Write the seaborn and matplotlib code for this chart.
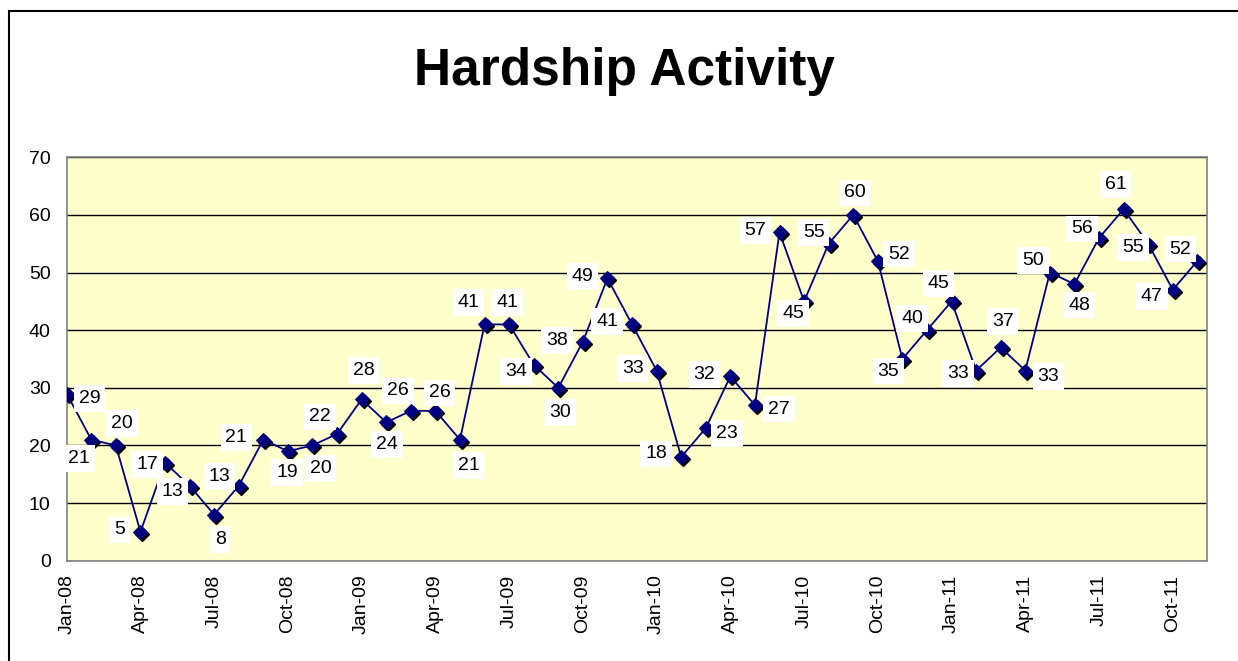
"""
Hardship Activity - monthly line chart with data labels
"""
import numpy as np
import pandas as pd
import matplotlib
matplotlib.use('Agg')
import matplotlib.pyplot as plt
from matplotlib.transforms import offset_copy
import seaborn as sns

sns.set_style('white')
plt.rcParams['font.family'] = ['Liberation Sans', 'DejaVu Sans']
plt.rcParams['text.color'] = 'black'

# data: Jan-08 .. Nov-11
months = ['Jan-08', 'Feb-08', 'Mar-08', 'Apr-08', 'May-08', 'Jun-08', 'Jul-08', 'Aug-08',
          'Sep-08', 'Oct-08', 'Nov-08', 'Dec-08',
          'Jan-09', 'Feb-09', 'Mar-09', 'Apr-09', 'May-09', 'Jun-09', 'Jul-09', 'Aug-09',
          'Sep-09', 'Oct-09', 'Nov-09', 'Dec-09',
          'Jan-10', 'Feb-10', 'Mar-10', 'Apr-10', 'May-10', 'Jun-10', 'Jul-10', 'Aug-10',
          'Sep-10', 'Oct-10', 'Nov-10', 'Dec-10',
          'Jan-11', 'Feb-11', 'Mar-11', 'Apr-11', 'May-11', 'Jun-11', 'Jul-11', 'Aug-11',
          'Sep-11', 'Oct-11', 'Nov-11']
values = [29, 21, 20, 5, 17, 13, 8, 13, 21, 19, 20, 22,
          28, 24, 26, 26, 21, 41, 41, 34, 30, 38, 49, 41,
          33, 18, 23, 32, 27, 57, 45, 55, 60, 52, 35, 40,
          45, 33, 37, 33, 50, 48, 56, 61, 55, 47, 52]
tick_labels = ['Jan-08', 'Apr-08', 'Jul-08', 'Oct-08',
               'Jan-09', 'Apr-09', 'Jul-09', 'Oct-09',
               'Jan-10', 'Apr-10', 'Jul-10', 'Oct-10',
               'Jan-11', 'Apr-11', 'Jul-11', 'Oct-11']

# label placement (pixels right, pixels down) relative to each point
label_offsets = [(23, 5), (-12, 19), (6, -22), (-21, -2), (-18, 2), (-17, 6), (6, 25), (-19, -9),
                 (-27, -2), (-1, 21), (8, 23), (-17, -17),
                 (2, -29), (1, 22), (-13, -20), (4, -18), (9, 26), (-16, -22), (-2, -22), (-18, 7),
                 (2, 25), (-26, -1), (-25, -2), (-25, -3),
                 (-24, -2), (-25, -3), (21, 5), (-26, -2), (24, 4), (-24, -2), (-11, 12), (-15, -11),
                 (2, -22), (21, -7), (-14, 12), (-15, -12),
                 (-13, -18), (-18, 3), (2, -26), (23, 6), (-17, -12), (5, 21), (-17, -9), (-8, -25),
                 (-15, 4), (-21, 7), (-17, -12)]

df = pd.DataFrame({'month': months, 'value': values})
df['pos'] = np.arange(len(df))

W, H = 1238, 661
fig = plt.figure(figsize=(W / 100, H / 100), dpi=100)
ax = fig.add_axes([66.7 / W, 1 - 560.7 / H, (1206.7 - 66.7) / W, (560.7 - 157.3) / H])
ax.set_facecolor('#FFFFCC')

# outer chart border (right/bottom cut off in the original)
fig.patches.append(plt.Rectangle((9 / W, -0.05), 1.1, 1 - 11 / H + 0.05, transform=fig.transFigure,
                                 fill=False, edgecolor='black', linewidth=1.5, zorder=0))

# gridlines
ax.set_ylim(0, 70)
ax.set_yticks(range(0, 71, 10))
ax.yaxis.grid(True, color='black', linewidth=1)
ax.set_axisbelow(True)

# marker shadow
shadow = offset_copy(ax.transData, fig=fig, x=2, y=-2, units='dots')
ax.plot(df['pos'], df['value'], 'D', color='black', markersize=7.5, transform=shadow, zorder=3)

sns.lineplot(data=df, x='pos', y='value', ax=ax, color='#000080', linewidth=1.3,
             marker='D', markersize=7.5, markeredgecolor='#000080', zorder=4)

for x, y, (dx, dy) in zip(df['pos'], df['value'], label_offsets):
    ax.annotate(str(y), (x, y), xytext=(dx, -dy), textcoords='offset pixels',
                ha='center', va='center', fontsize=14, color='black', zorder=6,
                bbox=dict(boxstyle='square,pad=0.25', facecolor='white', edgecolor='none'))

ax.set_xlim(0, 46.38)
ax.set_xticks(range(0, 46, 3))
ax.set_xticklabels(tick_labels, rotation=90)
ax.set_xlabel('')
ax.set_ylabel('')
ax.tick_params(axis='both', which='major', direction='out', width=1,
               color='#606060', labelsize=14, labelcolor='black')
ax.tick_params(axis='x', length=4, pad=6)
ax.tick_params(axis='y', length=5, pad=6.5)

for side in ['left', 'bottom', 'right', 'top']:
    ax.spines[side].set_visible(True)
    ax.spines[side].set_color('#808080')
    ax.spines[side].set_linewidth(1.2)

fig.text(624 / W, 1 - 85 / H, 'Hardship Activity', ha='center', va='baseline',
         fontsize=37, fontweight='bold', color='black')

plt.savefig('out.png', dpi=100)
plt.close()
